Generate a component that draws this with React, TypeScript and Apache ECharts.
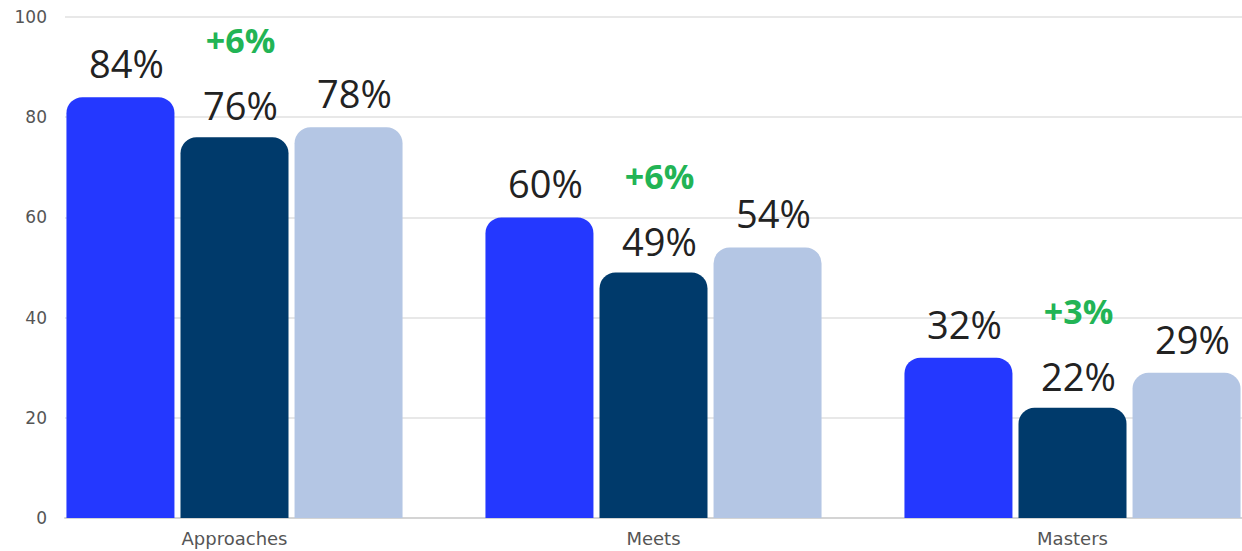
import React, { useEffect, useRef } from "react";
import * as echarts from "echarts";

const categories = ["Approaches", "Meets", "Masters"];
const seriesA = [84, 60, 32];
const seriesB = [76, 49, 22];
const seriesC = [78, 54, 29];
const gains = [6, 6, 3];

const COLORS = ["#2438ff", "#003a6b", "#b4c6e4"];
const VALUE_FONT = "'Open Sans', 'Liberation Sans', sans-serif";
const AXIS_FONT = "'DejaVu Sans', sans-serif";

export default function App() {
  const ref = useRef<HTMLDivElement>(null);
  useEffect(() => {
    document.body.style.margin = "0";
    const chart = echarts.init(ref.current!, null, { renderer: "svg" });
    const valueLabel = {
      show: true,
      position: "top",
      distance: 14,
      offset: [6, 0],
      fontFamily: VALUE_FONT,
      fontSize: 38,
      lineHeight: 40,
      color: "#222",
      formatter: (p: any) => `${p.value}%`,
    };
    chart.setOption({
      animation: false,
      backgroundColor: "#ffffff",
      grid: [
        { left: 65, right: 40, top: 17, bottom: 33 },
        { left: 25, right: 0, top: 17, bottom: 33 },
      ],
      xAxis: [
        {
          gridIndex: 0,
          type: "category",
          data: categories,
          axisLine: { lineStyle: { color: "#d4d4d4", width: 2 } },
          axisTick: { show: false },
          axisLabel: { show: false },
        },
        {
          gridIndex: 1,
          type: "category",
          data: categories,
          axisLine: { show: false },
          axisTick: { show: false },
          axisLabel: {
            margin: 11,
            fontSize: 18,
            color: "#555",
            fontFamily: AXIS_FONT,
          },
        },
      ],
      yAxis: [
        {
          gridIndex: 0,
          type: "value",
          min: 0,
          max: 100,
          interval: 20,
          axisLine: { show: false },
          axisTick: { show: false },
          axisLabel: {
            margin: 18,
            fontSize: 17,
            color: "#555",
            fontFamily: AXIS_FONT,
          },
          splitLine: { lineStyle: { color: "#e8e8e8", width: 2 } },
        },
        { gridIndex: 1, type: "value", min: 0, max: 100, show: false },
      ],
      series: [
        {
          name: "A",
          type: "bar",
          xAxisIndex: 1,
          yAxisIndex: 1,
          data: seriesA,
          barWidth: 108,
          barGap: "5.6%",
          itemStyle: { color: COLORS[0], borderRadius: [16, 16, 0, 0] },
          label: valueLabel,
        },
        {
          name: "B",
          type: "bar",
          xAxisIndex: 1,
          yAxisIndex: 1,
          data: seriesB,
          barWidth: 108,
          barGap: "5.6%",
          itemStyle: { color: COLORS[1], borderRadius: [16, 16, 0, 0] },
          label: {
            show: true,
            position: "top",
            distance: 12,
            offset: [6, 0],
            formatter: (p: any) =>
              `{g|+${gains[p.dataIndex]}%}\n{v|${p.value}%}`,
            rich: {
              g: {
                fontFamily: VALUE_FONT,
                fontSize: 34,
                fontWeight: "bold",
                color: "#22b455",
                lineHeight: 90,
              },
              v: {
                fontFamily: VALUE_FONT,
                fontSize: 38,
                color: "#222",
                lineHeight: 40,
              },
            },
          },
        },
        {
          name: "C",
          type: "bar",
          xAxisIndex: 1,
          yAxisIndex: 1,
          data: seriesC,
          barWidth: 108,
          barGap: "5.6%",
          itemStyle: { color: COLORS[2], borderRadius: [16, 16, 0, 0] },
          label: valueLabel,
        },
      ],
    });
    return () => chart.dispose();
  }, []);
  return (
    <div style={{ width: 1242, height: 551, overflow: "hidden" }}>
      <div ref={ref} style={{ width: 1282, height: 551 }} />
    </div>
  );
}
